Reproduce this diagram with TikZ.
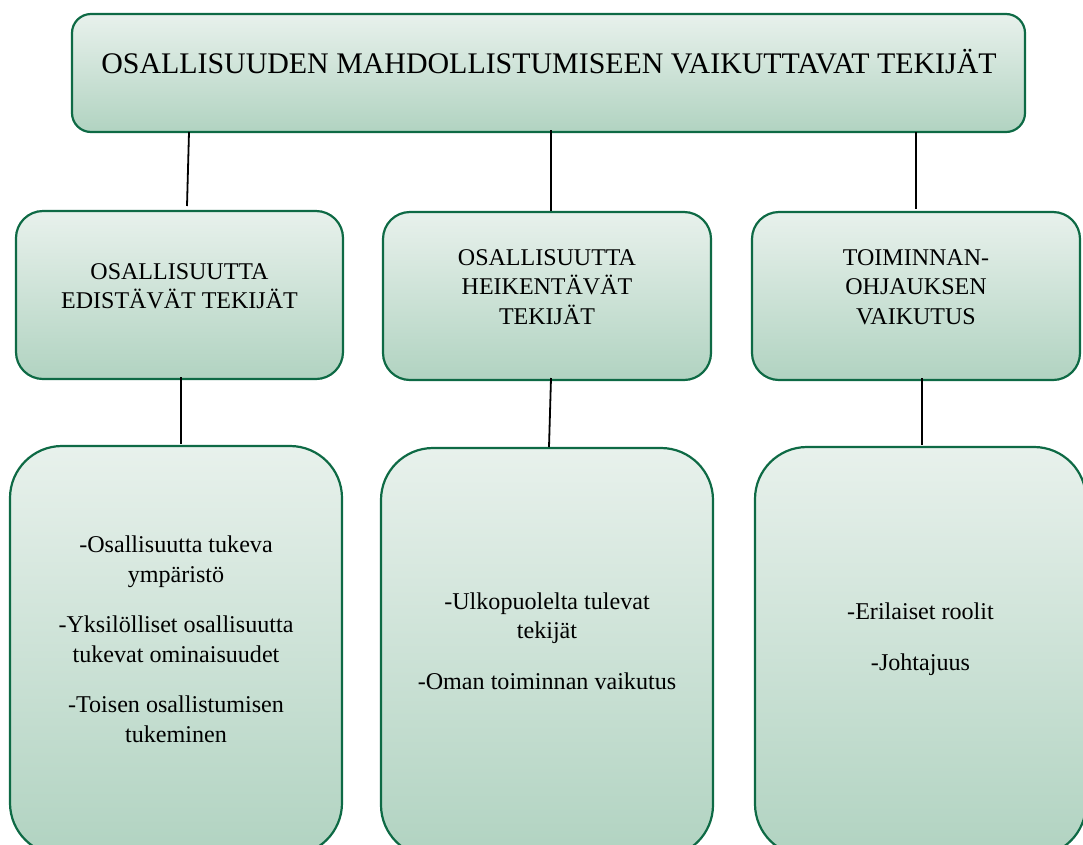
\documentclass[tikz,border=0pt]{standalone}
\usepackage{fontspec}
\setmainfont{Liberation Serif}
\definecolor{boxtop}{HTML}{E8F1EC}
\definecolor{boxbot}{HTML}{B1D3C1}
\definecolor{boxline}{HTML}{0E6A45}
\tikzset{
  box/.style={draw=boxline, line width=2.2pt, top color=boxtop, bottom color=boxbot,
              inner sep=0pt, outer sep=0pt},
  conn/.style={draw=black, line width=1.8pt},
  titletxt/.style={inner sep=0pt, font=\fontsize{29.9}{35}\selectfont},
  midtxt/.style={inner sep=0pt, align=center, font=\fontsize{24}{29.5}\selectfont},
  lowtxt/.style={inner sep=0pt, align=center, font=\fontsize{24.1}{29.5}\selectfont},
}
\begin{document}
\begin{tikzpicture}[x=1pt,y=-1pt]
\useasboundingbox (0,0) rectangle (1083,844);
\clip (0,0) rectangle (1083,844);

% boxes
\node[box, rounded corners=19pt, minimum width=953pt, minimum height=118pt] (top) at (548.5,73) {};
\node[box, rounded corners=27pt, minimum width=327pt, minimum height=168pt] (l2a) at (179.5,295) {};
\node[box, rounded corners=27pt, minimum width=328pt, minimum height=168pt] (l2b) at (547,296) {};
\node[box, rounded corners=27pt, minimum width=328pt, minimum height=168pt] (l2c) at (916,296) {};
\node[box, rounded corners=52pt, minimum width=332pt, minimum height=409pt] (l3a) at (176,650.5) {};
\node[box, rounded corners=52pt, minimum width=332pt, minimum height=409pt] (l3b) at (547,652.5) {};
\node[box, rounded corners=52pt, minimum width=331pt, minimum height=409pt] (l3c) at (920.5,651.5) {};

% texts
\node[titletxt, anchor=base] (ttop) at (549,73) {OSALLISUUDEN MAHDOLLISTUMISEEN VAIKUTTAVAT TEKIJÄT};
\node[midtxt] (t2a) at (179.5,286) {OSALLISUUTTA\\EDISTÄVÄT TEKIJÄT};
\node[midtxt] (t2b) at (547,287) {OSALLISUUTTA\\HEIKENTÄVÄT\\TEKIJÄT};
\node[midtxt] (t2c) at (916,287) {TOIMINNAN-\\OHJAUKSEN\\VAIKUTUS};
\node[lowtxt] (t3a) at (176,639) {-Osallisuutta tukeva\\ympäristö\\[21pt]-Yksilölliset osallisuutta\\tukevat ominaisuudet\\[21pt]-Toisen osallistumisen\\tukeminen};
\node[lowtxt] (t3b) at (547,641) {-Ulkopuolelta tulevat\\tekijät\\[21pt]-Oman toiminnan vaikutus};
\node[lowtxt] (t3c) at (920.5,639) {-Erilaiset roolit\\[21pt]-Johtajuus};

% connectors
\draw[conn] ([xshift=9.5pt]top.south -| l2a.north) -- ([xshift=7.5pt,yshift=5pt]l2a.north);
\draw[conn] ([xshift=4pt,yshift=2pt]top.south -| l2b.north) -- ([xshift=4pt,yshift=1pt]l2b.north);
\draw[conn] (top.south -| l2c.north) -- ([yshift=3pt]l2c.north);
\draw[conn] ([xshift=1.5pt,yshift=2pt]l2a.south) -- ([xshift=1.5pt,yshift=2pt]l3a.north -| l2a.south);
\draw[conn] ([xshift=4pt,yshift=2pt]l2b.south) -- ([xshift=2pt,yshift=1pt]l3b.north);
\draw[conn] ([xshift=6pt,yshift=2pt]l2c.south) -- ([xshift=1.5pt,yshift=2pt]l3c.north);
\end{tikzpicture}
\end{document}
